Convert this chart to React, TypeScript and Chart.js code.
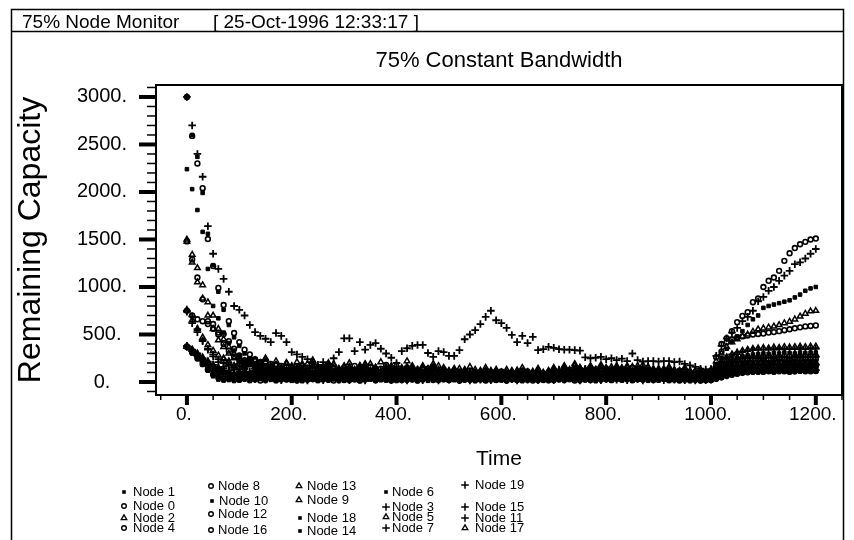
import React, { useEffect, useRef } from 'react';
import { Chart, registerables } from 'chart.js';

Chart.register(...registerables);

const FONT = "'Liberation Sans', Arial, Helvetica, sans-serif";

// time axis (every 10 units)
const TIME = [
  0, 10, 20, 30, 40, 50, 60, 70, 80, 90,
  100, 110, 120, 130, 140, 150, 160, 170, 180, 190,
  200, 210, 220, 230, 240, 250, 260, 270, 280, 290,
  300, 310, 320, 330, 340, 350, 360, 370, 380, 390,
  400, 410, 420, 430, 440, 450, 460, 470, 480, 490,
  500, 510, 520, 530, 540, 550, 560, 570, 580, 590,
  600, 610, 620, 630, 640, 650, 660, 670, 680, 690,
  700, 710, 720, 730, 740, 750, 760, 770, 780, 790,
  800, 810, 820, 830, 840, 850, 860, 870, 880, 890,
  900, 910, 920, 930, 940, 950, 960, 970, 980, 990,
  1000, 1010, 1020, 1030, 1040, 1050, 1060, 1070, 1080, 1090,
  1100, 1110, 1120, 1130, 1140, 1150, 1160, 1170, 1180, 1190,
  1200,
];

const NODE_19 = [
  3000, 2700, 2400, 2160, 1640, 1350, 1190, 1085, 950, 800,
  760, 700, 600, 525, 485, 455, 420, 515, 485, 420,
  315, 290, 265, 240, 200, 180, 210, 190, 250, 315,
  460, 460, 325, 420, 340, 390, 410, 350, 300, 255,
  200, 325, 355, 380, 390, 390, 305, 265, 325, 315,
  275, 275, 335, 450, 500, 545, 610, 685, 750, 650,
  620, 570, 495, 420, 485, 410, 475, 335, 345, 370,
  360, 345, 340, 340, 335, 330, 260, 250, 255, 265,
  240, 250, 230, 245, 220, 300, 230, 215, 220, 220,
  215, 220, 220, 210, 215, 190, 175, 160, 140, 130,
  135, 275, 380, 460, 520, 570, 640, 685, 750, 850,
  895, 960, 1000, 1065, 1120, 1170, 1240, 1260, 1300, 1350,
  1400,
];

const NODE_0 = [
  3000, 2590, 2300, 2040, 1505, 1220, 990, 810, 640, 515,
  420, 340, 290, 240, 200, 170, 150, 125, 110, 95,
  90, 80, 95, 70, 85, 60, 75, 90, 65, 80,
  70, 95, 60, 85, 75, 100, 65, 80, 55, 90,
  75, 60, 85, 70, 95, 65, 80, 60, 90, 70,
  55, 80, 65, 90, 70, 60, 85, 75, 55, 80,
  65, 85, 70, 55, 80, 60, 90, 65, 75, 60,
  85, 70, 95, 60, 80, 105, 75, 90, 65, 85,
  75, 95, 70, 85, 60, 90, 75, 100, 80, 70,
  85, 65, 90, 75, 60, 80, 70, 55, 65, 60,
  70, 180, 320, 460, 535, 630, 695, 735, 840, 880,
  1000, 1065, 1100, 1170, 1275, 1355, 1410, 1450, 1475, 1500,
  1510,
];

const NODE_1 = [
  2240, 2030, 1810, 1580, 1190, 800, 670, 520, 410, 330,
  270, 220, 180, 150, 130, 115, 100, 90, 85, 70,
  60, 75, 50, 65, 80, 55, 70, 45, 60, 75,
  50, 65, 80, 55, 70, 45, 60, 75, 50, 65,
  55, 70, 45, 60, 75, 50, 65, 55, 70, 45,
  60, 50, 65, 75, 45, 55, 70, 60, 50, 65,
  55, 45, 60, 70, 50, 65, 55, 40, 60, 50,
  65, 55, 70, 45, 60, 75, 55, 65, 50, 70,
  60, 75, 50, 65, 80, 55, 70, 60, 75, 55,
  65, 50, 70, 55, 60, 45, 65, 55, 50, 60,
  60, 150, 250, 350, 420, 480, 535, 600, 660, 700,
  780, 800, 815, 830, 845, 860, 890, 920, 960, 985,
  1000,
];

const NODE_10 = [
  3000, 2600, 2370, 1990, 1560, 1230, 950, 760, 600, 470,
  380, 300, 240, 190, 160, 130, 110, 95, 80, 70,
  40, 55, 30, 45, 60, 35, 50, 25, 40, 55,
  35, 50, 30, 45, 25, 40, 55, 30, 45, 35,
  50, 30, 45, 25, 40, 55, 35, 45, 30, 50,
  40, 25, 45, 35, 50, 30, 40, 25, 45, 35,
  30, 45, 35, 25, 40, 50, 30, 45, 35, 40,
  45, 30, 50, 35, 40, 25, 45, 35, 50, 30,
  40, 55, 35, 45, 30, 50, 40, 35, 45, 55,
  35, 45, 30, 50, 40, 35, 45, 30, 40, 35,
  40, 80, 130, 180, 220, 250, 270, 280, 290, 295,
  300, 295, 305, 300, 310, 305, 300, 310, 305, 310,
  310,
];

const NODE_2 = [
  1480, 1340, 1200, 1020, 840, 700, 560, 450, 370, 300,
  260, 220, 190, 230, 170, 210, 150, 180, 140, 200,
  160, 130, 190, 120, 170, 140, 110, 180, 150, 130,
  120, 160, 100, 140, 180, 110, 150, 90, 130, 170,
  140, 100, 160, 120, 90, 150, 110, 130, 170, 100,
  120, 90, 140, 110, 80, 130, 100, 120, 90, 110,
  100, 80, 120, 90, 110, 70, 100, 130, 90, 110,
  140, 110, 160, 120, 100, 150, 130, 170, 110, 140,
  120, 160, 130, 100, 150, 120, 170, 130, 110, 140,
  120, 100, 140, 110, 90, 130, 100, 120, 80, 110,
  130, 220, 300, 370, 420, 450, 480, 500, 530, 555,
  565, 575, 585, 600, 620, 635, 660, 690, 720, 745,
  750,
];

const NODE_4 = [
  1480, 1290, 1100, 870, 640, 610, 500, 400, 330, 270,
  230, 200, 240, 170, 210, 150, 190, 130, 170, 120,
  150, 110, 170, 100, 140, 120, 90, 160, 110, 130,
  100, 140, 90, 120, 160, 100, 130, 80, 110, 150,
  110, 90, 130, 80, 120, 100, 140, 90, 110, 80,
  100, 70, 110, 90, 120, 80, 100, 70, 90, 110,
  80, 100, 70, 90, 60, 110, 80, 100, 70, 90,
  110, 80, 120, 90, 140, 100, 70, 110, 130, 90,
  100, 130, 90, 120, 80, 110, 140, 100, 90, 120,
  90, 110, 80, 100, 120, 70, 90, 100, 80, 90,
  100, 260, 400, 420, 450, 470, 480, 490, 500, 505,
  510, 520, 525, 535, 545, 555, 565, 575, 585, 590,
  595,
];

const NODE_13 = [
  1500, 1260, 1050, 880, 700, 560, 440, 370, 300, 250,
  210, 180, 230, 160, 200, 250, 170, 220, 150, 190,
  170, 210, 140, 190, 230, 160, 120, 200, 180, 140,
  160, 200, 130, 170, 110, 190, 150, 210, 120, 160,
  180, 130, 220, 150, 110, 170, 140, 190, 120, 150,
  110, 140, 90, 130, 160, 100, 120, 150, 90, 130,
  100, 130, 80, 120, 150, 90, 110, 140, 100, 120,
  150, 120, 170, 130, 190, 140, 110, 160, 130, 180,
  150, 120, 170, 140, 110, 160, 130, 180, 150, 120,
  140, 110, 160, 130, 100, 150, 120, 110, 130, 100,
  120, 170, 220, 260, 290, 310, 330, 340, 350, 355,
  360, 355, 365, 360, 370, 365, 370, 375, 370, 375,
  375,
];

const NODE_3 = [
  740, 690, 555, 440, 350, 290, 240, 200, 170, 150,
  130, 160, 110, 140, 90, 120, 150, 100, 130, 80,
  110, 140, 90, 120, 70, 100, 130, 80, 110, 90,
  120, 80, 100, 130, 70, 110, 90, 120, 80, 100,
  90, 120, 70, 100, 130, 80, 110, 60, 90, 120,
  70, 100, 80, 110, 60, 90, 70, 100, 80, 60,
  90, 70, 100, 60, 80, 110, 70, 90, 60, 80,
  100, 130, 80, 110, 90, 120, 140, 100, 130, 90,
  120, 90, 130, 100, 80, 110, 130, 90, 120, 100,
  90, 120, 80, 110, 100, 90, 70, 100, 80, 90,
  110, 160, 210, 260, 290, 310, 320, 330, 335, 340,
  340, 345, 340, 350, 345, 350, 345, 350, 345, 350,
  350,
];

const NODE_7 = [
  750, 620, 525, 430, 340, 270, 210, 160, 120, 90,
  70, 45, 60, 30, 50, 25, 40, 55, 20, 35,
  45, 25, 40, 15, 35, 50, 20, 30, 45, 25,
  35, 20, 45, 30, 15, 40, 25, 50, 30, 20,
  40, 25, 15, 35, 45, 20, 30, 40, 15, 35,
  25, 40, 20, 30, 15, 35, 25, 40, 20, 30,
  35, 20, 30, 15, 40, 25, 35, 20, 30, 25,
  20, 35, 25, 40, 30, 15, 35, 25, 40, 20,
  30, 45, 25, 35, 20, 40, 30, 15, 35, 25,
  35, 20, 30, 25, 40, 20, 30, 15, 25, 20,
  25, 40, 55, 70, 85, 95, 105, 110, 115, 120,
  120, 125, 120, 125, 130, 125, 120, 130, 125, 125,
  125,
];

const NODE_17 = [
  760, 650, 560, 470, 390, 330, 280, 240, 200, 170,
  150, 120, 180, 100, 140, 90, 160, 110, 80, 130,
  100, 150, 80, 120, 170, 90, 140, 110, 70, 130,
  90, 140, 110, 170, 80, 120, 150, 100, 130, 90,
  120, 80, 150, 100, 130, 70, 110, 140, 90, 120,
  80, 110, 70, 100, 60, 90, 110, 80, 100, 70,
  90, 60, 80, 100, 70, 90, 60, 110, 80, 70,
  110, 90, 130, 80, 120, 150, 100, 140, 90, 120,
  100, 130, 90, 150, 110, 80, 120, 140, 100, 90,
  110, 80, 100, 120, 90, 70, 100, 80, 90, 70,
  90, 140, 190, 230, 250, 260, 270, 275, 275, 280,
  280, 275, 285, 280, 285, 280, 285, 290, 285, 290,
  290,
];

const NODE_8 = [
  750, 700, 660, 640, 610, 560, 520, 505, 430, 350,
  280, 230, 190, 220, 160, 200, 140, 180, 120, 160,
  130, 170, 100, 150, 120, 90, 160, 110, 140, 100,
  150, 110, 170, 90, 130, 160, 100, 140, 180, 120,
  130, 100, 150, 120, 90, 140, 110, 160, 100, 130,
  90, 120, 80, 110, 70, 100, 90, 120, 80, 100,
  110, 80, 100, 70, 120, 90, 80, 110, 70, 100,
  120, 90, 140, 100, 130, 80, 110, 150, 100, 120,
  140, 100, 130, 90, 120, 150, 110, 90, 130, 100,
  110, 90, 120, 80, 100, 110, 90, 70, 100, 80,
  100, 140, 170, 195, 210, 220, 225, 230, 230, 235,
  230, 235, 230, 240, 235, 235, 240, 235, 240, 240,
  240,
];

const NODE_9 = [
  375, 340, 300, 260, 220, 180, 150, 250, 220, 170,
  190, 150, 210, 130, 170, 240, 120, 180, 140, 200,
  150, 110, 180, 130, 220, 100, 160, 140, 190, 120,
  170, 130, 100, 150, 190, 120, 140, 110, 160, 130,
  110, 150, 130, 170, 100, 140, 120, 160, 130, 90,
  100, 130, 80, 120, 100, 70, 110, 90, 120, 80,
  70, 100, 90, 120, 60, 100, 80, 110, 70, 100,
  130, 100, 150, 110, 170, 120, 90, 140, 110, 160,
  130, 100, 150, 120, 170, 110, 140, 100, 160, 120,
  100, 140, 110, 90, 120, 80, 110, 90, 120, 100,
  110, 130, 150, 165, 180, 185, 190, 195, 195, 200,
  200, 195, 205, 200, 205, 200, 210, 205, 200, 205,
  205,
];

const NODE_12 = [
  375, 320, 270, 220, 170, 130, 100, 80, 90, 70,
  90, 60, 80, 50, 100, 70, 45, 85, 60, 75,
  55, 80, 40, 70, 95, 60, 50, 75, 45, 85,
  65, 40, 80, 55, 70, 110, 45, 60, 90, 50,
  70, 95, 50, 65, 40, 80, 60, 45, 75, 55,
  45, 70, 60, 40, 55, 80, 50, 65, 45, 60,
  55, 40, 65, 50, 70, 45, 60, 35, 55, 50,
  60, 80, 55, 70, 45, 65, 85, 55, 70, 60,
  75, 55, 90, 65, 50, 80, 60, 75, 55, 70,
  60, 75, 50, 65, 55, 45, 60, 50, 55, 45,
  55, 80, 105, 125, 140, 150, 155, 160, 160, 160,
  165, 160, 160, 165, 160, 165, 160, 165, 165, 160,
  165,
];

const NODE_16 = [
  370, 310, 250, 190, 130, 80, 45, 30, 40, 25,
  25, 40, 20, 35, 15, 30, 45, 20, 35, 25,
  30, 15, 40, 25, 35, 20, 30, 45, 15, 35,
  20, 35, 25, 15, 30, 40, 20, 30, 25, 15,
  30, 20, 35, 25, 15, 30, 40, 20, 25, 35,
  20, 30, 15, 25, 35, 20, 30, 15, 25, 20,
  25, 15, 30, 20, 25, 35, 15, 25, 20, 30,
  20, 30, 25, 35, 15, 25, 30, 20, 35, 25,
  30, 20, 35, 25, 40, 20, 30, 25, 35, 20,
  25, 35, 20, 30, 15, 25, 20, 30, 15, 20,
  20, 35, 50, 65, 80, 90, 100, 105, 110, 110,
  110, 115, 110, 115, 115, 110, 115, 120, 115, 115,
  115,
];

const NODE_18 = [
  375, 330, 280, 230, 180, 140, 110, 90, 70, 80,
  60, 90, 45, 75, 55, 85, 40, 70, 95, 50,
  80, 45, 65, 90, 50, 75, 40, 85, 60, 70,
  45, 80, 60, 95, 50, 70, 40, 85, 55, 75,
  60, 45, 80, 55, 70, 90, 50, 65, 40, 75,
  55, 75, 45, 60, 80, 50, 65, 40, 70, 55,
  45, 65, 50, 75, 40, 60, 55, 70, 45, 60,
  70, 55, 85, 60, 75, 50, 90, 65, 80, 55,
  65, 85, 60, 80, 55, 95, 70, 60, 85, 65,
  70, 55, 80, 60, 75, 50, 65, 55, 70, 60,
  65, 100, 135, 165, 185, 200, 205, 210, 210, 215,
  215, 210, 215, 220, 215, 215, 220, 215, 220, 215,
  220,
];

const NODE_14 = [
  370, 300, 240, 180, 130, 80, 45, 25, 35, 20,
  30, 45, 20, 35, 50, 25, 40, 15, 30, 45,
  20, 35, 15, 40, 25, 30, 45, 20, 35, 25,
  40, 20, 30, 15, 35, 25, 45, 20, 30, 40,
  25, 35, 20, 45, 15, 30, 25, 40, 20, 30,
  35, 20, 30, 25, 15, 40, 25, 30, 20, 35,
  20, 30, 25, 35, 20, 15, 30, 25, 35, 20,
  30, 20, 40, 25, 35, 30, 20, 40, 25, 35,
  25, 40, 30, 20, 35, 45, 25, 30, 40, 25,
  30, 25, 35, 20, 30, 25, 15, 25, 20, 25,
  30, 50, 75, 95, 110, 120, 130, 135, 140, 140,
  140, 145, 140, 145, 145, 140, 145, 150, 145, 145,
  150,
];

const NODE_6 = [
  360, 310, 250, 190, 120, 60, 25, 15, 20, 10,
  15, 25, 10, 20, 30, 12, 22, 8, 18, 28,
  12, 22, 8, 18, 25, 10, 20, 15, 28, 10,
  20, 12, 25, 8, 18, 28, 10, 22, 15, 20,
  10, 22, 15, 25, 8, 18, 12, 28, 15, 20,
  15, 25, 10, 18, 22, 8, 20, 12, 25, 15,
  20, 10, 22, 15, 8, 18, 25, 12, 20, 10,
  15, 25, 12, 20, 28, 10, 18, 22, 8, 20,
  22, 12, 25, 15, 20, 10, 28, 18, 12, 22,
  15, 25, 10, 20, 12, 18, 8, 15, 10, 12,
  15, 30, 45, 60, 70, 80, 90, 95, 100, 100,
  100, 105, 100, 105, 105, 100, 105, 110, 105, 105,
  110,
];

const NODE_5 = [
  375, 340, 290, 240, 200, 160, 130, 110, 95, 80,
  70, 95, 55, 85, 110, 60, 90, 50, 80, 100,
  60, 90, 50, 75, 100, 55, 85, 65, 95, 45,
  80, 55, 95, 65, 45, 85, 70, 100, 55, 75,
  90, 60, 80, 50, 70, 95, 55, 75, 45, 85,
  60, 45, 70, 55, 80, 40, 65, 50, 75, 55,
  50, 70, 40, 60, 55, 75, 45, 65, 50, 60,
  75, 55, 90, 65, 80, 60, 95, 70, 55, 85,
  70, 90, 60, 85, 75, 55, 95, 65, 80, 60,
  75, 55, 65, 80, 50, 70, 55, 60, 50, 55,
  60, 80, 95, 110, 120, 125, 130, 130, 135, 135,
  135, 130, 135, 140, 135, 135, 140, 135, 140, 135,
  140,
];

const NODE_15 = [
  380, 340, 300, 250, 215, 180, 150, 140, 120, 130,
  110, 140, 85, 120, 100, 150, 75, 130, 105, 90,
  120, 80, 140, 95, 70, 115, 130, 85, 110, 60,
  95, 130, 75, 110, 85, 60, 120, 90, 140, 80,
  110, 70, 100, 130, 80, 95, 60, 115, 85, 105,
  75, 95, 60, 85, 70, 100, 55, 80, 65, 90,
  70, 55, 85, 60, 90, 50, 75, 65, 80, 55,
  90, 110, 75, 100, 120, 85, 130, 95, 110, 80,
  100, 85, 120, 95, 110, 75, 105, 120, 90, 100,
  95, 80, 110, 85, 100, 75, 90, 80, 70, 85,
  90, 130, 170, 200, 220, 235, 245, 250, 255, 255,
  255, 260, 255, 260, 260, 255, 260, 265, 260, 260,
  265,
];

const NODE_11 = [
  370, 330, 280, 230, 185, 150, 120, 100, 85, 70,
  70, 55, 85, 45, 65, 80, 40, 60, 75, 50,
  65, 45, 75, 55, 40, 70, 60, 85, 50, 65,
  55, 75, 40, 60, 85, 50, 70, 45, 65, 55,
  70, 50, 60, 40, 75, 55, 65, 85, 45, 60,
  50, 65, 40, 55, 70, 45, 60, 50, 40, 55,
  45, 60, 50, 35, 55, 65, 40, 55, 45, 50,
  60, 45, 70, 55, 80, 50, 65, 75, 55, 70,
  65, 80, 55, 70, 60, 85, 50, 75, 60, 70,
  55, 70, 60, 50, 65, 55, 45, 55, 50, 45,
  50, 75, 100, 125, 145, 155, 165, 170, 170, 175,
  175, 170, 175, 180, 175, 175, 180, 175, 180, 175,
  180,
];

const X_TICKS = [0, 200, 400, 600, 800, 1000, 1200];
const X_TICK_LABELS = ['0.', '200.', '400.', '600.', '800.', '1000.', '1200.'];
const Y_TICKS = [0, 500, 1000, 1500, 2000, 2500, 3000];
const Y_TICK_LABELS = ['0.', '500.', '1000.', '1500.', '2000.', '2500.', '3000.'];

type Marker = 'rect' | 'circle' | 'triangle' | 'cross';

const SERIES: { label: string; marker: Marker; values: number[] }[] = [
  { label: 'Node 1', marker: 'rect', values: NODE_1 },
  { label: 'Node 0', marker: 'circle', values: NODE_0 },
  { label: 'Node 2', marker: 'triangle', values: NODE_2 },
  { label: 'Node 4', marker: 'circle', values: NODE_4 },
  { label: 'Node 8', marker: 'circle', values: NODE_8 },
  { label: 'Node 10', marker: 'rect', values: NODE_10 },
  { label: 'Node 12', marker: 'circle', values: NODE_12 },
  { label: 'Node 16', marker: 'circle', values: NODE_16 },
  { label: 'Node 13', marker: 'triangle', values: NODE_13 },
  { label: 'Node 9', marker: 'triangle', values: NODE_9 },
  { label: 'Node 18', marker: 'rect', values: NODE_18 },
  { label: 'Node 14', marker: 'rect', values: NODE_14 },
  { label: 'Node 6', marker: 'rect', values: NODE_6 },
  { label: 'Node 3', marker: 'cross', values: NODE_3 },
  { label: 'Node 5', marker: 'triangle', values: NODE_5 },
  { label: 'Node 7', marker: 'cross', values: NODE_7 },
  { label: 'Node 19', marker: 'cross', values: NODE_19 },
  { label: 'Node 15', marker: 'cross', values: NODE_15 },
  { label: 'Node 11', marker: 'cross', values: NODE_11 },
  { label: 'Node 17', marker: 'triangle', values: NODE_17 },
];

// legend placement (layout only)
const LEGEND_POS: { label: string; mx: number; tx: number; y: number }[] = [
  { label: 'Node 1', mx: 124, tx: 133, y: 492 },
  { label: 'Node 0', mx: 124, tx: 133, y: 506 },
  { label: 'Node 2', mx: 124, tx: 133, y: 518 },
  { label: 'Node 4', mx: 124, tx: 133, y: 528 },
  { label: 'Node 8', mx: 211, tx: 218, y: 486 },
  { label: 'Node 10', mx: 212, tx: 219, y: 501 },
  { label: 'Node 12', mx: 211, tx: 218, y: 514 },
  { label: 'Node 16', mx: 211, tx: 218, y: 530 },
  { label: 'Node 13', mx: 299, tx: 307, y: 486 },
  { label: 'Node 9', mx: 299, tx: 307, y: 500 },
  { label: 'Node 18', mx: 300, tx: 307, y: 518 },
  { label: 'Node 14', mx: 300, tx: 307, y: 531 },
  { label: 'Node 6', mx: 386, tx: 392, y: 492 },
  { label: 'Node 3', mx: 386, tx: 392, y: 507 },
  { label: 'Node 5', mx: 386, tx: 392, y: 517 },
  { label: 'Node 7', mx: 386, tx: 392, y: 528 },
  { label: 'Node 19', mx: 465, tx: 475, y: 485 },
  { label: 'Node 15', mx: 465, tx: 475, y: 507 },
  { label: 'Node 11', mx: 465, tx: 475, y: 518 },
  { label: 'Node 17', mx: 465, tx: 475, y: 528 },
];

function drawMarker(ctx: CanvasRenderingContext2D, m: Marker, x: number, y: number) {
  ctx.beginPath();
  if (m === 'rect') {
    ctx.fillRect(x - 1.8, y - 1.8, 3.6, 3.6);
  } else if (m === 'circle') {
    ctx.lineWidth = 1.4;
    ctx.arc(x, y, 2.3, 0, Math.PI * 2);
    ctx.stroke();
  } else if (m === 'triangle') {
    ctx.lineWidth = 1.3;
    ctx.moveTo(x, y - 3.2);
    ctx.lineTo(x + 2.8, y + 1.6);
    ctx.lineTo(x - 2.8, y + 1.6);
    ctx.closePath();
    ctx.stroke();
  } else {
    ctx.lineWidth = 1.5;
    ctx.moveTo(x - 3.8, y);
    ctx.lineTo(x + 3.8, y);
    ctx.moveTo(x, y - 3.8);
    ctx.lineTo(x, y + 3.8);
    ctx.stroke();
  }
}

const decorPlugin = {
  id: 'decor',
  beforeDraw(chart: any) {
    const ctx = chart.ctx as CanvasRenderingContext2D;
    ctx.save();
    ctx.fillStyle = '#ffffff';
    ctx.fillRect(0, 0, chart.width, chart.height);
    ctx.restore();
  },
  afterDraw(chart: any) {
    const ctx = chart.ctx as CanvasRenderingContext2D;
    const a = chart.chartArea;
    const xs = chart.scales.x;
    const ys = chart.scales.y;
    ctx.save();
    ctx.strokeStyle = '#000';
    ctx.fillStyle = '#000';

    // plot frame
    ctx.lineWidth = 2;
    ctx.strokeRect(a.left, a.top, a.right - a.left, a.bottom - a.top);

    // y tick marks
    for (let v = -100; v <= 3100; v += 100) {
      const y = ys.getPixelForValue(v);
      if (y < a.top || y > a.bottom) continue;
      const major = Y_TICKS.includes(v);
      ctx.lineWidth = major ? 4 : 1.5;
      ctx.beginPath();
      ctx.moveTo(a.left - (major ? 17 : 9), y);
      ctx.lineTo(a.left, y);
      ctx.stroke();
    }
    // x tick marks
    for (let v = -50; v <= 1250; v += 50) {
      const x = xs.getPixelForValue(v);
      if (x < a.left || x > a.right) continue;
      const major = X_TICKS.includes(v);
      ctx.lineWidth = major ? 4 : 1.5;
      ctx.beginPath();
      ctx.moveTo(x, a.bottom);
      ctx.lineTo(x, a.bottom + (major ? 10 : 5));
      ctx.stroke();
    }

    // outer frame and header
    ctx.lineWidth = 1.5;
    ctx.strokeRect(11.5, 9.5, 832, 545);
    ctx.beginPath();
    ctx.moveTo(11.5, 31.5);
    ctx.lineTo(843.5, 31.5);
    ctx.stroke();

    ctx.textAlign = 'left';
    ctx.textBaseline = 'alphabetic';
    ctx.font = `19px ${FONT}`;
    ctx.fillText('75% Node Monitor', 22, 28);
    ctx.fillText('[ 25-Oct-1996 12:33:17 ]', 213, 28);

    const cx = (a.left + a.right) / 2;
    ctx.textAlign = 'center';
    ctx.font = `22px ${FONT}`;
    ctx.fillText('75% Constant Bandwidth', cx, 67);
    ctx.font = `21px ${FONT}`;
    ctx.fillText('Time', cx, 465);

    // legend
    ctx.font = `13px ${FONT}`;
    ctx.textAlign = 'left';
    ctx.textBaseline = 'middle';
    for (const p of LEGEND_POS) {
      const s = SERIES.find((q) => q.label === p.label);
      if (!s) continue;
      drawMarker(ctx, s.marker, p.mx, p.y);
      ctx.fillText(p.label, p.tx, p.y + 0.5);
    }
    ctx.restore();
  },
};

function styleFor(m: Marker) {
  if (m === 'rect') return { pointRadius: 2.5, backgroundColor: '#000', borderWidth: 1 };
  if (m === 'circle') return { pointRadius: 2.4, backgroundColor: 'rgba(0,0,0,0)', borderWidth: 1.6 };
  if (m === 'triangle') return { pointRadius: 3.2, backgroundColor: 'rgba(0,0,0,0)', borderWidth: 1.5 };
  return { pointRadius: 3.8, backgroundColor: 'rgba(0,0,0,0)', borderWidth: 1.8 };
}

export default function App() {
  const ref = useRef<HTMLCanvasElement | null>(null);

  useEffect(() => {
    if (!ref.current) return;
    const datasets = SERIES.map((s) => ({
      label: s.label,
      data: s.values.map((v, i) => ({ x: TIME[i], y: v })),
      pointStyle: s.marker,
      borderColor: '#000',
      showLine: false,
      pointHoverRadius: 3,
      ...styleFor(s.marker),
    }));

    const chart = new Chart(ref.current, {
      type: 'scatter',
      data: { datasets },
      plugins: [decorPlugin],
      options: {
        responsive: false,
        animation: false,
        devicePixelRatio: 1,
        events: [],
        layout: { padding: { left: 0, right: 12, top: 85, bottom: 0 } },
        plugins: {
          legend: { display: false },
          tooltip: { enabled: false },
          title: { display: false },
        },
        scales: {
          x: {
            type: 'linear',
            position: 'bottom',
            min: -59,
            max: 1250,
            afterFit: (s: any) => {
              s.height = 145;
            },
            afterBuildTicks: (s: any) => {
              s.ticks = X_TICKS.map((v) => ({ value: v }));
            },
            grid: { display: false, drawTicks: false },
            border: { display: false },
            ticks: {
              color: '#000',
              font: { size: 19, family: FONT },
              padding: 8,
              labelOffset: -3,
              maxRotation: 0,
              autoSkip: false,
              callback: (v: any) => {
                const i = X_TICKS.indexOf(Number(v));
                return i >= 0 ? X_TICK_LABELS[i] : '';
              },
            },
            title: { display: false },
          },
          y: {
            type: 'linear',
            min: -137,
            max: 3126,
            afterFit: (s: any) => {
              s.width = 156;
            },
            afterBuildTicks: (s: any) => {
              s.ticks = Y_TICKS.map((v) => ({ value: v }));
            },
            grid: { display: false, drawTicks: false },
            border: { display: false },
            ticks: {
              color: '#000',
              font: { size: 20, family: FONT },
              padding: 29,
              crossAlign: 'center',
              autoSkip: false,
              callback: (v: any) => {
                const i = Y_TICKS.indexOf(Number(v));
                return i >= 0 ? Y_TICK_LABELS[i] : '';
              },
            },
            title: {
              display: true,
              text: 'Remaining Capacity',
              color: '#000',
              font: { size: 32, family: FONT },
              padding: { top: 12, bottom: 0 },
            },
          },
        },
      } as any,
    });
    return () => chart.destroy();
  }, []);

  return (
    <div style={{ position: 'absolute', left: 0, top: 0, width: 854, height: 540, background: '#fff' }}>
      <canvas ref={ref} width={854} height={540} style={{ display: 'block', width: 854, height: 540 }} />
    </div>
  );
}
